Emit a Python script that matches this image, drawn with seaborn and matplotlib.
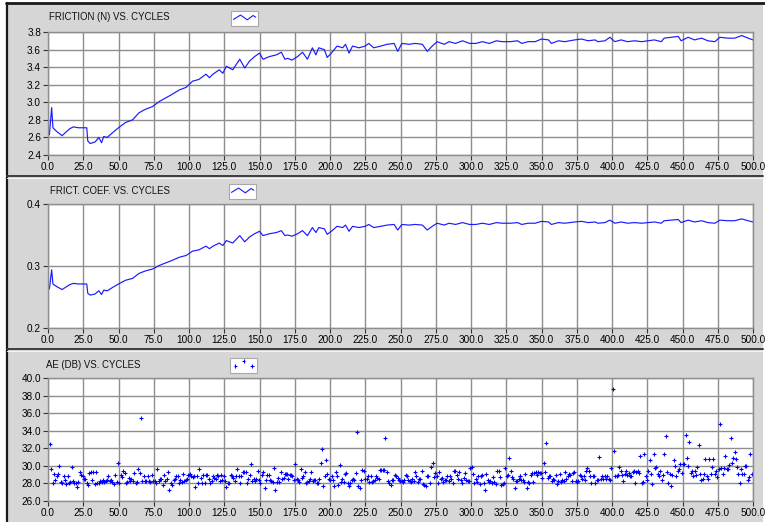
import numpy as np
import pandas as pd
import matplotlib
matplotlib.use("Agg")
import matplotlib.pyplot as plt
import seaborn as sns
from matplotlib.legend_handler import HandlerBase
from matplotlib.lines import Line2D
from matplotlib.patches import Rectangle
from matplotlib.ticker import FormatStrFormatter

# ---------------- data ----------------
fric_cycles = [
    1, 2.6, 3.5, 6, 10, 12, 15.5, 18, 21.5, 27.5,
    28.2, 30, 33.5, 36, 38, 39.5, 42, 45.5, 50, 55,
    60, 64.5, 69, 74, 79, 83.5, 88, 93, 98, 100,
    102.5, 107, 112, 114.5, 117, 121.5, 124, 126.5, 131, 136,
    139.5, 143, 146.5, 150, 152.5, 157, 162, 165.5, 168, 170,
    173, 177, 180.5, 184, 187.5, 190, 192, 196, 198, 201.5,
    205, 209, 211, 213.5, 216, 220.5, 225, 227.5, 231, 236,
    240.5, 245.5, 248, 251, 256, 260.5, 265.5, 269, 272.5, 276,
    281, 284.5, 289, 294, 299, 303.5, 308, 313, 318, 322,
    328, 333, 336, 340.5, 345.5, 350, 355, 357, 362, 366.5,
    373.5, 378.5, 383, 388, 390, 395, 398.5, 402, 406.5, 411,
    416, 421, 425.5, 430, 435, 437, 442, 447, 449, 454,
    458.5, 463.5, 468, 473, 476.5, 482, 487, 492, 496.5, 500]

fric_vals = [
    2.63, 2.94, 2.71, 2.67, 2.62, 2.65, 2.70, 2.72, 2.71, 2.71,
    2.56, 2.53, 2.55, 2.60, 2.54, 2.61, 2.60, 2.65, 2.71, 2.77,
    2.80, 2.88, 2.92, 2.95, 3.01, 3.05, 3.09, 3.14, 3.17, 3.20,
    3.24, 3.26, 3.32, 3.28, 3.32, 3.37, 3.33, 3.41, 3.37, 3.49,
    3.39, 3.47, 3.52, 3.56, 3.49, 3.52, 3.54, 3.57, 3.49, 3.50,
    3.48, 3.52, 3.57, 3.49, 3.62, 3.54, 3.62, 3.60, 3.51, 3.57,
    3.64, 3.62, 3.66, 3.56, 3.64, 3.62, 3.64, 3.67, 3.62, 3.64,
    3.66, 3.67, 3.58, 3.67, 3.66, 3.67, 3.66, 3.58, 3.64, 3.69,
    3.66, 3.69, 3.67, 3.70, 3.67, 3.67, 3.69, 3.67, 3.70, 3.69,
    3.69, 3.70, 3.67, 3.69, 3.69, 3.72, 3.71, 3.67, 3.70, 3.69,
    3.71, 3.72, 3.70, 3.71, 3.69, 3.70, 3.74, 3.69, 3.71, 3.69,
    3.70, 3.69, 3.70, 3.71, 3.69, 3.73, 3.74, 3.75, 3.70, 3.74,
    3.71, 3.73, 3.70, 3.69, 3.74, 3.73, 3.73, 3.76, 3.73, 3.71]

coef_vals = [
    0.263, 0.294, 0.271, 0.267, 0.262, 0.265, 0.270, 0.272, 0.271, 0.271,
    0.256, 0.253, 0.255, 0.260, 0.254, 0.261, 0.260, 0.265, 0.271, 0.277,
    0.280, 0.288, 0.292, 0.295, 0.301, 0.305, 0.309, 0.314, 0.317, 0.320,
    0.324, 0.326, 0.332, 0.328, 0.332, 0.337, 0.333, 0.341, 0.337, 0.349,
    0.339, 0.347, 0.352, 0.356, 0.349, 0.352, 0.354, 0.357, 0.349, 0.350,
    0.348, 0.352, 0.357, 0.349, 0.362, 0.354, 0.362, 0.360, 0.351, 0.357,
    0.364, 0.362, 0.366, 0.356, 0.364, 0.362, 0.364, 0.367, 0.362, 0.364,
    0.366, 0.367, 0.358, 0.367, 0.366, 0.367, 0.366, 0.358, 0.364, 0.369,
    0.366, 0.369, 0.367, 0.370, 0.367, 0.367, 0.369, 0.367, 0.370, 0.369,
    0.369, 0.370, 0.367, 0.369, 0.369, 0.372, 0.371, 0.367, 0.370, 0.369,
    0.371, 0.372, 0.370, 0.371, 0.369, 0.370, 0.374, 0.369, 0.371, 0.369,
    0.370, 0.369, 0.370, 0.371, 0.369, 0.373, 0.374, 0.375, 0.370, 0.374,
    0.371, 0.373, 0.370, 0.369, 0.374, 0.373, 0.373, 0.376, 0.373, 0.371]

# AE (dB) readings, in cycle order, three stretches of the x axis
ae_seg1 = [
    32.5, 29.6, 28.0, 29.1, 28.4, 28.8, 29.1, 30.0, 28.2, 28.0,
    28.8, 28.4, 27.9, 28.8, 28.1, 28.2, 29.9, 28.3, 28.1, 28.0,
    27.6, 28.2, 29.3, 29.0, 28.8, 28.5, 28.5, 28.1, 27.8, 29.2,
    29.3, 28.4, 29.3, 27.9, 29.3, 28.1, 28.1, 28.3, 28.2, 28.4,
    28.2, 28.3, 28.4, 28.8, 28.3, 28.4, 28.2, 27.9, 29.0, 28.2,
    30.3, 28.1, 29.0, 28.7, 29.4, 29.2, 28.0, 28.2, 28.6, 28.3,
    28.5, 28.3, 29.2, 28.1, 28.2, 29.6, 29.2, 35.5, 28.3, 28.9,
    28.3, 28.3, 28.8, 28.3, 28.2, 29.0, 28.3, 28.3, 28.1, 29.6,
    28.3, 28.5, 28.5, 27.8, 29.0, 28.3, 28.5, 29.3, 27.3, 28.0,
    27.8, 28.4, 28.5, 28.9, 28.8, 28.0, 28.4, 28.2, 29.1, 28.3,
    28.4, 28.5, 29.0, 29.1, 28.8, 28.7, 28.8, 27.6, 28.8, 28.0,
    29.6, 28.6, 28.0, 29.0, 28.0, 29.0, 29.0, 28.5, 28.1, 28.3,
    28.8, 28.6, 28.5, 29.0, 28.8, 28.3, 29.0, 28.4, 28.8, 28.3,
    27.6, 28.0, 28.1, 29.0, 28.8, 28.6, 28.3, 28.8, 29.6, 28.8,
    28.0, 28.8, 29.3, 29.3, 29.3, 28.1, 28.5, 29.0, 30.2, 28.3,
    28.5, 28.3, 28.5, 29.4, 28.4, 28.0, 29.0, 29.3, 27.5, 28.4,
    29.0, 29.0, 28.4, 28.3, 28.2, 29.7, 27.3, 28.2, 28.6, 28.2,
    29.3, 28.5, 28.6, 29.1]
ae_seg2 = [
    29.1, 29.1, 28.5, 29.0, 29.0, 28.9, 28.4, 30.2, 28.5, 28.4,
    28.2, 29.6, 28.6, 28.8, 29.3, 28.0, 28.2, 28.3, 28.5, 29.3,
    28.3, 28.4, 28.4, 28.0, 28.0, 28.5, 30.3, 31.9, 27.7, 28.8,
    30.7, 29.1, 28.5, 28.4, 28.9, 28.4, 27.7, 29.3, 28.8, 27.8,
    30.1, 28.2, 28.5, 28.2, 29.1, 29.2, 28.0, 27.7, 28.0, 28.4,
    28.5, 28.4, 29.2, 33.9, 27.7, 27.5, 28.4, 29.5, 29.4, 28.5,
    28.5, 28.8, 28.2, 28.9, 28.2, 28.3, 28.4, 28.8, 28.6, 28.5,
    29.5, 29.5, 29.5, 29.5, 33.2, 29.3, 28.3, 28.0, 27.8, 28.4,
    28.4, 29.0, 28.8, 28.6, 28.4, 28.3, 28.3, 28.2, 28.4, 29.0,
    28.9, 28.4, 28.3, 28.2, 28.5, 28.3, 29.3, 28.8, 28.2, 28.5,
    28.5, 29.4, 27.9, 27.8, 27.7, 28.8, 28.9, 28.0, 29.9, 30.3,
    28.7, 29.2, 28.8, 28.0, 29.3, 28.5, 28.6, 28.2, 28.4, 28.4,
    28.8, 28.3, 28.8, 28.5, 28.1, 29.4, 29.4, 29.0, 28.5, 29.3,
    28.4, 28.0, 28.6, 29.2, 28.4, 28.3, 28.3, 29.7, 29.9, 29.1,
    28.0, 28.5, 28.2, 28.8, 27.9, 28.9, 29.0, 28.1, 27.2, 29.1,
    28.4, 28.2, 28.3, 28.0, 28.7, 28.2, 27.9, 29.4, 29.4, 28.7,
    27.8, 27.9, 28.0, 29.7, 28.8, 29.0, 30.9, 29.4, 28.7, 28.5,
    27.5, 28.3, 28.3, 28.5, 28.8]
ae_seg3 = [
    28.8, 28.4, 28.4, 28.2, 29.1, 27.5, 28.2, 28.1, 29.0, 29.2,
    28.2, 29.2, 29.3, 29.0, 29.3, 29.2, 29.2, 28.6, 30.3, 29.3,
    32.6, 28.6, 28.9, 28.8, 28.3, 28.5, 28.4, 29.0, 27.9, 28.3,
    29.1, 28.2, 28.4, 28.3, 29.3, 28.5, 28.8, 29.1, 29.0, 28.3,
    29.2, 29.3, 28.3, 28.2, 28.3, 29.0, 28.8, 28.5, 28.9, 28.4,
    29.4, 29.8, 29.4, 28.8, 28.0, 28.8, 28.8, 28.0, 28.4, 28.4,
    31.0, 28.5, 28.8, 28.5, 28.9, 28.5, 28.8, 28.5, 28.4, 29.8,
    38.7, 31.7, 28.8, 28.9, 29.0, 29.9, 29.4, 29.0, 28.3, 29.1,
    29.4, 29.0, 29.2, 28.8, 28.8, 29.3, 29.4, 28.1, 29.3, 29.4,
    29.2, 31.1, 28.0, 28.2, 31.4, 28.8, 28.4, 29.4, 30.7, 29.1,
    27.9, 31.3, 29.7, 29.9, 29.1, 28.8, 29.4, 28.4, 29.0, 31.3,
    33.4, 29.3, 28.0, 29.1, 27.7, 29.0, 30.7, 30.0, 28.8, 29.4,
    29.6, 30.2, 29.2, 30.2, 30.2, 33.5, 30.9, 30.0, 32.7, 29.2,
    29.4, 28.8, 29.4, 29.0, 29.9, 32.4, 29.1, 28.4, 28.5, 29.1,
    30.8, 28.8, 28.5, 30.8, 29.1, 29.9, 30.8, 29.1, 29.4, 28.7,
    29.6, 34.8, 29.7, 29.1, 29.7, 31.1, 29.6, 29.6, 30.1, 33.2,
    30.3, 30.9, 31.6, 30.8, 29.9, 29.1, 28.0, 29.6, 29.1, 29.1,
    30.0, 30.0, 28.4, 28.7, 31.3, 29.1]
# first and last cycle covered by each stretch
ae_seg_cycles = [(1.4, 168.0), (168.6, 334.8), (334.7, 499.1)]

titles = ["FRICTION (N) VS. CYCLES", "FRICT. COEF. VS. CYCLES", "AE (DB) VS. CYCLES"]
x_ticks = list(range(0, 501, 25))
y_ticks_fric = [2.4, 2.6, 2.8, 3.0, 3.2, 3.4, 3.6, 3.8]
y_ticks_coef = [0.2, 0.3, 0.4]
y_ticks_ae = [26, 28, 30, 32, 34, 36, 38, 40]

# ---------------- build tables ----------------
fric_df = pd.DataFrame({"cycle": fric_cycles, "friction": fric_vals})
coef_df = pd.DataFrame({"cycle": fric_cycles, "coef": coef_vals})
ae_parts = []
for seg, (c0, c1) in zip([ae_seg1, ae_seg2, ae_seg3], ae_seg_cycles):
    ae_parts.append(pd.DataFrame({"cycle": np.linspace(c0, c1, len(seg)), "ae": seg}))
ae_df = pd.concat(ae_parts, ignore_index=True)

# ---------------- figure ----------------
sns.set_theme(style="white")
plt.rcParams["font.family"] = ["Liberation Sans", "DejaVu Sans"]

W, H = 765, 522
fig = plt.figure(figsize=(W / 100, H / 100), dpi=100, facecolor="white")


def fx(px):
    return px / W


def fy(py):
    return 1 - py / H


PANEL = "#d6d6d6"
fig.add_artist(Rectangle((fx(7), 0), fx(763) - fx(7), fy(3), transform=fig.transFigure,
                         facecolor=PANEL, edgecolor="none", zorder=0))
fig.add_artist(Line2D([fx(7), fx(7)], [0, fy(2.5)], transform=fig.transFigure, color="#1a1a1a", lw=1.6))
fig.add_artist(Line2D([fx(6.5), 1], [fy(3), fy(3)], transform=fig.transFigure, color="#1a1a1a", lw=2.0))
for ysep in (176, 349):
    fig.add_artist(Line2D([fx(7), fx(763)], [fy(ysep), fy(ysep)], transform=fig.transFigure,
                          color="#3c3c3c", lw=1.4))
    fig.add_artist(Line2D([fx(7), fx(763)], [fy(ysep + 1.6), fy(ysep + 1.6)], transform=fig.transFigure,
                          color="#f4f4f4", lw=0.8))

BLUE = "#1a1aff"
GRID = "#8e8e8e"


def make_ax(top, bottom):
    ax = fig.add_axes([fx(48), fy(bottom), fx(753) - fx(48), (bottom - top) / H])
    ax.set_facecolor("white")
    return ax


ax1 = make_ax(32, 155)
ax2 = make_ax(204, 328)
ax3 = make_ax(378, 501)

sns.lineplot(data=fric_df, x="cycle", y="friction", ax=ax1, color=BLUE, lw=0.85, sort=False)
sns.lineplot(data=coef_df, x="cycle", y="coef", ax=ax2, color=BLUE, lw=0.85, sort=False)
sns.scatterplot(data=ae_df, x="cycle", y="ae", ax=ax3, marker="+", color="#0000ff", s=6, linewidth=0.8)

for ax, yt, ylim in [(ax1, y_ticks_fric, (2.4, 3.8)), (ax2, y_ticks_coef, (0.2, 0.4)),
                     (ax3, y_ticks_ae, (26, 40))]:
    ax.set_xlim(0, 500)
    ax.set_ylim(*ylim)
    ax.set_xticks(x_ticks)
    ax.set_yticks(yt)
    ax.xaxis.set_major_formatter(FormatStrFormatter("%.1f"))
    ax.yaxis.set_major_formatter(FormatStrFormatter("%.1f"))
    ax.set_xlabel("")
    ax.set_ylabel("")
    ax.grid(True, color=GRID, lw=1.0)
    ax.set_axisbelow(True)
    for sp in ax.spines.values():
        sp.set_color(GRID)
        sp.set_linewidth(1.0)
    ax.tick_params(axis="both", direction="out", length=3.5, width=0.8, color="#333333",
                   labelsize=7.2, labelcolor="#000000", pad=1.5)
    ax.tick_params(axis="y", left=True)
    ax.tick_params(axis="x", bottom=True)


class ZigZag(HandlerBase):
    def create_artists(self, legend, orig_handle, xdescent, ydescent, width, height, fontsize, trans):
        xs = np.array([0.0, 0.32, 0.62, 0.88, 1.0]) * width - xdescent
        ys = np.array([0.35, 0.85, 0.3, 0.8, 0.6]) * height - ydescent
        ln = Line2D(xs, ys, color=BLUE, lw=0.8)
        ln.set_transform(trans)
        return [ln]


leg_kw = dict(loc="upper left", bbox_transform=fig.transFigure, frameon=True, fancybox=False,
              edgecolor="#a8a8a8", facecolor="white", framealpha=1, borderpad=0.25,
              handlelength=2.3, handleheight=1.0, handletextpad=0, borderaxespad=0, fontsize=7)

h1 = ax1.lines[0]
leg1 = ax1.legend(handles=[h1], labels=[""], handler_map={Line2D: ZigZag()},
                  bbox_to_anchor=(fx(231), fy(11)), **leg_kw)
leg1.get_frame().set_linewidth(0.8)
h2 = ax2.lines[0]
leg2 = ax2.legend(handles=[h2], labels=[""], handler_map={Line2D: ZigZag()},
                  bbox_to_anchor=(fx(229), fy(184)), **leg_kw)
leg2.get_frame().set_linewidth(0.8)
h3 = ax3.collections[0]
leg3 = ax3.legend(handles=[h3], labels=[""], scatterpoints=3, scatteryoffsets=[0.3, 0.85, 0.3],
                  bbox_to_anchor=(fx(230), fy(358)), **leg_kw)
leg3.get_frame().set_linewidth(0.8)

for (px, py), t in zip([(49, 17.5), (50, 190.5), (46, 365)], titles):
    fig.text(fx(px), fy(py), t, ha="left", va="center", fontsize=6.9, color="#111111")

fig.savefig("out.png", dpi=100, facecolor=fig.get_facecolor())
